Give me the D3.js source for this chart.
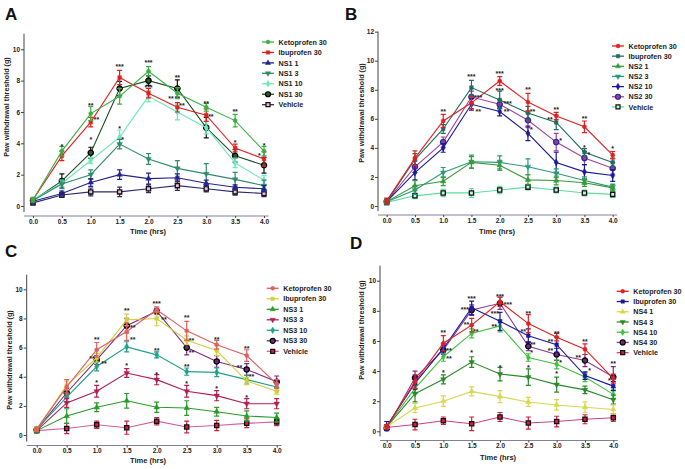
<!DOCTYPE html>
<html><head><meta charset="utf-8">
<script src="https://cdn.jsdelivr.net/npm/d3@7"></script>
<style>body{margin:0;background:#fff}svg{display:block;font-family:"Liberation Sans",Arial,sans-serif}</style>
</head><body><svg id="chart" width="685" height="469"></svg>
<script>
// ---------- DATA ----------
const timeHrs = [0, 0.5, 1, 1.5, 2, 2.5, 3, 3.5, 4];
const xTickLabels = ["0.0","0.5","1.0","1.5","2.0","2.5","3.0","3.5","4.0"];
const yTicks10 = [0, 2, 4, 6, 8, 10];
const yTicks12 = [0, 2, 4, 6, 8, 10, 12];

const aLabels = ["Ketoprofen 30","Ibuprofen 30","NS1 1","NS1 3","NS1 10","NS1 30","Vehicle"];
const aMeans = [
  [0.4,3.5,5.9,7.0,8.6,7.2,6.3,5.45,3.5],
  [0.4,3.2,5.35,8.2,7.2,6.3,5.8,3.7,3.0],
  [0.3,0.8,1.5,2.0,1.75,1.8,1.45,1.2,1.1],
  [0.35,1.4,2.0,3.95,3.0,2.4,2.05,1.7,1.3],
  [0.4,1.45,2.9,4.4,7.0,6.0,5.0,2.75,1.65],
  [0.35,1.6,3.4,7.5,8.0,7.5,5.0,3.2,2.6],
  [0.2,0.7,0.9,0.9,1.1,1.3,1.1,0.9,0.8]];
const aErr = [
  [0.15,0.3,0.45,0.5,0.3,0.35,0.25,0.4,0.3],
  [0.1,0.3,0.3,0.45,0.3,0.3,0.4,0.25,0.45],
  [0.1,0.15,0.25,0.3,0.35,0.25,0.2,0.15,0.2],
  [0.1,0.3,0.3,0.3,0.35,0.5,0.65,0.45,0.35],
  [0.1,0.2,0.2,0.45,0.35,0.5,0.4,0.3,0.3],
  [0.1,0.45,0.35,0.45,0.3,0.55,0.65,0.4,0.5],
  [0.1,0.15,0.25,0.3,0.25,0.3,0.2,0.2,0.2]];
const aStars = [[0.5,3.85,"*"],[1,6.5,"**"],[1.1,5.6,"**"],[1,4.3,"*"],[1.5,8.95,"***"],[1.5,5.0,"*"],[1.55,4.3,"*"],
  [2,9.25,"***"],[2,7.6,"***"],[2.5,8.25,"**"],[2.39,6.9,"**"],[2.58,6.5,"**"],[3,6.6,"**"],[3.08,5.8,"**"],
  [3.5,6.1,"**"],[3.5,4.1,"*"],[4,3.9,"*"],[3.92,3.3,"*"]];

const bLabels = ["Ketoprofen 30","Ibuprofen 30","NS2 1","NS2 3","NS2 10","NS2 30","Vehicle"];
const bMeans = [
  [0.35,3.3,5.85,7.1,8.6,7.15,6.2,5.45,3.5],
  [0.3,3.2,5.3,8.15,7.3,6.4,5.75,3.7,3.0],
  [0.3,1.4,1.7,3.0,2.8,1.8,1.75,1.6,1.25],
  [0.3,1.1,2.3,3.05,3.0,2.7,2.25,1.75,1.3],
  [0.3,2.3,4.0,7.0,6.5,5.0,3.0,2.35,2.1],
  [0.3,2.7,4.4,7.5,7.0,5.9,4.4,3.3,2.6],
  [0.25,0.7,0.9,0.9,1.1,1.3,1.1,0.9,0.8]];
const bErr = [
  [0.2,0.5,0.45,0.4,0.3,0.6,0.25,0.4,0.25],
  [0.2,0.4,0.3,0.5,0.6,0.45,0.5,0.25,0.3],
  [0.1,0.35,0.3,0.4,0.35,0.35,0.3,0.25,0.2],
  [0.1,0.3,0.35,0.45,0.45,0.55,0.3,0.25,0.2],
  [0.1,0.5,0.3,0.4,0.3,0.5,0.7,0.5,0.4],
  [0.1,0.4,0.35,0.4,0.3,0.5,0.6,0.45,0.4],
  [0.1,0.2,0.25,0.3,0.25,0.2,0.2,0.2,0.2]];
const bStars = [[1,6.55,"**"],[1.5,8.95,"***"],[1.62,7.55,"***"],[1.62,6.6,"**"],[2,9.2,"***"],[2,8.05,"***"],
  [2.14,7.15,"***"],[2.12,6.55,"**"],[2.5,8.1,"**"],[2.58,6.6,"**"],[2.56,5.3,"*"],[3,6.7,"**"],[2.89,6.0,"**"],
  [3.08,4.6,"*"],[3.5,6.1,"**"],[3.5,4.1,"*"],[3.58,3.6,"*"],[4,4.0,"*"]];

const cLabels = ["Ketoprofen 30","Ibuprofen 30","NS3 1","NS3 3","NS3 10","NS3 30","Vehicle"];
const cMeans = [
  [0.4,3.3,5.85,7.1,8.6,7.15,6.2,5.45,3.5],
  [0.4,3.4,5.3,7.9,8.0,6.5,5.8,3.7,3.0],
  [0.3,1.3,1.9,2.35,1.9,1.85,1.6,1.3,1.2],
  [0.3,2.2,3.0,4.25,3.8,3.0,2.7,2.15,2.15],
  [0.4,2.6,4.7,6.05,5.5,4.35,4.3,3.8,3.3],
  [0.35,2.9,5.15,7.5,8.5,6.0,5.05,4.5,3.65],
  [0.3,0.45,0.7,0.5,0.95,0.55,0.65,0.8,0.9]];
const cErr = [
  [0.15,0.5,0.5,0.6,0.2,0.65,0.3,0.4,0.3],
  [0.15,0.3,0.3,0.4,0.5,0.3,0.35,0.25,0.2],
  [0.1,0.5,0.3,0.5,0.35,0.5,0.3,0.35,0.3],
  [0.1,0.3,0.4,0.3,0.35,0.4,0.35,0.35,0.35],
  [0.1,0.3,0.3,0.35,0.2,0.25,0.3,0.3,0.25],
  [0.1,0.3,0.3,0.5,0.2,0.5,0.4,0.4,0.4],
  [0.1,0.35,0.25,0.45,0.25,0.4,0.35,0.3,0.25]];
const cStars = [[1,6.6,"**"],[0.92,5.3,"**"],[1.12,5.0,"**"],[1,3.7,"*"],[1.5,8.6,"**"],[1.6,7.45,"**"],[1.6,6.6,"**"],
  [1.5,4.85,"*"],[2,9.1,"***"],[2.12,8.0,"**"],[2,5.9,"**"],[2,4.2,"*"],[2.5,8.1,"**"],[2.58,6.55,"**"],
  [2.58,5.75,"**"],[2.5,4.75,"**"],[2.5,3.6,"*"],[3,6.6,"**"],[3,3.25,"*"],[3.5,6.0,"**"],[3.38,4.7,"**"],
  [3.58,4.05,"**"],[3.5,2.65,"*"]];

const dLabels = ["Ketoprofen 30","Ibuprofen 30","NS4 1","NS4 3","NS4 10","NS4 30","Vehicle"];
const dMeans = [
  [0.3,3.3,5.85,7.05,8.6,7.15,6.25,5.45,3.5],
  [0.35,3.2,5.5,8.2,7.3,6.35,5.75,3.7,3.0],
  [0.3,1.55,2.0,2.65,2.3,1.95,1.75,1.6,1.45],
  [0.3,2.5,3.45,4.6,3.8,3.6,3.1,2.75,2.1],
  [0.3,2.85,4.95,6.5,7.0,4.9,4.45,3.6,2.45],
  [0.2,3.55,5.4,8.05,8.5,5.65,5.1,4.7,3.6],
  [0.25,0.45,0.7,0.5,0.95,0.55,0.65,0.8,0.9]];
const dErr = [
  [0.15,0.45,0.5,0.45,0.3,0.6,0.25,0.35,0.3],
  [0.3,0.4,0.3,0.45,0.6,0.45,0.5,0.25,0.3],
  [0.1,0.3,0.35,0.3,0.4,0.3,0.35,0.35,0.3],
  [0.1,0.55,0.3,0.35,0.45,0.55,0.5,0.25,0.3],
  [0.1,0.35,0.3,0.3,0.4,0.25,0.3,0.3,0.3],
  [0.1,0.45,0.3,0.35,0.4,0.3,0.4,0.4,0.7],
  [0.1,0.35,0.25,0.45,0.3,0.4,0.35,0.3,0.25]];
const dStars = [[1,6.6,"**"],[1.1,5.45,"**"],[1.1,4.9,"**"],[1,3.95,"*"],[1.5,8.9,"***"],[1.38,8.15,"***"],
  [1.41,7.15,"**"],[1.57,6.7,"**"],[1.5,5.3,"*"],[2,9.0,"***"],[2.14,8.5,"***"],[1.91,7.9,"***"],[1.9,7.0,"**"],
  [2,4.3,"*"],[2.5,7.9,"**"],[2.41,6.7,"**"],[2.58,5.8,"**"],[2.56,5.3,"*"],[2.5,4.3,"*"],[3,6.55,"**"],
  [2.89,6.0,"**"],[2.89,5.4,"**"],[3.07,4.65,"*"],[3,3.9,"*"],[3.5,6.0,"**"],[3.38,4.95,"**"],[3.58,4.1,"*"],
  [4,4.6,"**"],[3.93,3.45,"*"]];

// ---------- STYLE ----------
const markerTypes = ["circle","square","tri","triDown","diamond","openCircle","openSquare"];
const panels = [
  {id:"A", labels:aLabels, means:aMeans, err:aErr, stars:aStars, yTicks:yTicks10, yMax:11,
   colors:["#3cb043","#e02020","#22228c","#2e8b6e","#6ee8b8","#1f4a2a","#2a2a70"],
   mfill:["#3cb043","#e02020","#22228c","#2e8b6e","#6ee8b8","#2a5a2a","#f2b8c8"],
   mstroke:["#3cb043","#e02020","#22228c","#2e8b6e","#6ee8b8","#000","#111"],
   x0:33, x4:264, y0:206, yUnit:15.67, yAxX:24, xAxY:216, legX:268, legY:42, legStep:10.45,
   letter:[5,20], yTitle:[6,107], xTitle:[148,234]},
  {id:"B", labels:bLabels, means:bMeans, err:bErr, stars:bStars, yTicks:yTicks12, yMax:12,
   colors:["#e02020","#1e6e5e","#3a9a3a","#2a9a7a","#1a1a9a","#a040a0","#5ae0a0"],
   mfill:["#e02020","#1e6e5e","#3a9a3a","#2a9a7a","#1a1a9a","#9a3a9a","#c8f0d8"],
   mstroke:["#e02020","#1e6e5e","#3a9a3a","#2a9a7a","#1a1a9a","#2a2a9a","#111"],
   x0:386.7, x4:612.7, y0:206, yUnit:14.53, yAxX:378, xAxY:215, legX:618, legY:46, legStep:10.15,
   letter:[345,20], yTitle:[361,113], xTitle:[497,234]},
  {id:"C", labels:cLabels, means:cMeans, err:cErr, stars:cStars, yTicks:yTicks10, yMax:11,
   colors:["#e06060","#d0d040","#2a9a2a","#b02050","#20a08a","#7a2a8a","#d060a0"],
   mfill:["#e06060","#d0d040","#2a9a2a","#b02050","#20a08a","#6a2a7a","#d02040"],
   mstroke:["#e06060","#d0d040","#2a9a2a","#b02050","#20a08a","#000","#111"],
   x0:36.7, x4:276.7, y0:435, yUnit:14.57, yAxX:26.7, xAxY:445.5, legX:272.7, legY:288.3, legStep:10.5,
   letter:[5,257], yTitle:[9,360], xTitle:[148,463]},
  {id:"D", labels:dLabels, means:dMeans, err:dErr, stars:dStars, yTicks:yTicks10, yMax:11,
   colors:["#e02020","#1a1a9a","#d8d850","#2a8a2a","#40c040","#8a3a9a","#d04080"],
   mfill:["#e02020","#1a1a9a","#d8d850","#2a8a2a","#40c040","#6a2a7a","#d02040"],
   mstroke:["#e02020","#1a1a9a","#d8d850","#2a8a2a","#40c040","#000","#111"],
   x0:386.7, x4:613.3, y0:431.3, yUnit:15.06, yAxX:380, xAxY:440.5, legX:622.7, legY:291.3, legStep:10.23,
   letter:[350,249], yTitle:[361,330], xTitle:[498,460]}
];

const svg = d3.select("#chart");
svg.append("rect").attr("width",685).attr("height",469).attr("fill","#fff");

function symbolPath(type, size){
  const s = {circle:d3.symbolCircle, square:d3.symbolSquare, tri:d3.symbolTriangle, triDown:d3.symbolTriangle,
    diamond:d3.symbolDiamond, openCircle:d3.symbolCircle, openSquare:d3.symbolSquare}[type];
  return d3.symbol().type(s).size(size)();
}
function markerSize(type){ return type==="openCircle"?22:type==="openSquare"?18:type==="diamond"?14:13; }

panels.forEach(p => {
  const g = svg.append("g");
  const ux = (p.x4 - p.x0) / 4;
  const x = d3.scaleLinear().domain([-0.1, 4.1]).range([p.x0 - 0.1*ux, p.x0 + 4.1*ux]);
  const yBottom = -(p.xAxY - 4 - p.y0) / p.yUnit;
  const y = d3.scaleLinear().domain([yBottom, p.yMax]).range([p.y0 - yBottom*p.yUnit, p.y0 - p.yMax*p.yUnit]);

  // Y axis
  const yAx = g.append("g").attr("transform",`translate(${p.yAxX},0)`)
    .call(d3.axisLeft(y).tickValues(p.yTicks).tickSize(3).tickPadding(1).tickFormat(d3.format("d")));
  yAx.selectAll("text").attr("font-size",6.5).attr("font-weight","bold").attr("fill","#222");
  yAx.selectAll("line,path").attr("stroke","#444").attr("stroke-width",1);
  yAx.select(".domain").attr("d",`M0,${y(yBottom)}V${y(p.yMax)}`);

  // X axis
  const xAx = g.append("g").attr("transform",`translate(0,${p.xAxY})`)
    .call(d3.axisBottom(x).tickValues(timeHrs).tickSize(2).tickPadding(1).tickFormat((d,i)=>xTickLabels[i]));
  xAx.selectAll("text").attr("font-size",6.5).attr("font-weight","bold").attr("fill","#222");
  xAx.selectAll("line,path").attr("stroke","#444").attr("stroke-width",1);
  xAx.select(".domain").attr("d",`M${p.yAxX},0H${x(4.08)}`).attr("stroke","#8080a0");

  // titles
  g.append("text").attr("x",p.xTitle[0]).attr("y",p.xTitle[1]).attr("text-anchor","middle")
    .attr("font-size",7.5).attr("font-weight","bold").attr("fill","#222").text("Time (hrs)");
  g.append("text").attr("transform",`translate(${p.yTitle[0]+3},${p.yTitle[1]}) rotate(-90)`)
    .attr("text-anchor","middle").attr("font-size",7.2).attr("font-weight","bold").attr("fill","#222")
    .text("Paw withdrawal threshold (g)");
  g.append("text").attr("x",p.letter[0]).attr("y",p.letter[1]).attr("font-size",17).attr("font-weight","bold")
    .attr("fill","#111").text(p.id);

  // series drawn back to front (vehicle first)
  const line = d3.line().x((d,i)=>x(timeHrs[i])).y(d=>y(d));
  for (let s = p.labels.length-1; s >= 0; s--) {
    const col = p.colors[s];
    const sg = g.append("g");
    sg.append("path").datum(p.means[s]).attr("d",line).attr("fill","none").attr("stroke",col).attr("stroke-width",1.1);
    const errCol = (s===6 && (p.id==="C"||p.id==="D")) ? "#d02040" : (s===5 ? (p.id==="A"?"#111":p.id==="B"?"#a040a0":"#7a2a8a") : col);
    p.means[s].forEach((m,i) => {
      const e = p.err[s][i], cx = x(timeHrs[i]);
      sg.append("path").attr("d",`M${cx},${y(m-e)}V${y(m+e)}M${cx-2.5},${y(m-e)}H${cx+2.5}M${cx-2.5},${y(m+e)}H${cx+2.5}`)
        .attr("stroke",errCol).attr("stroke-width",1.2).attr("fill","none");
    });
    const t = markerTypes[s];
    sg.selectAll("path.m").data(p.means[s]).join("path").attr("class","m")
      .attr("d",symbolPath(t, markerSize(t)))
      .attr("transform",(d,i)=>`translate(${x(timeHrs[i])},${y(d)})${t==="triDown"?" rotate(180)":""}`)
      .attr("fill",p.mfill[s]).attr("stroke",p.mstroke[s])
      .attr("stroke-width",(t==="openCircle"||t==="openSquare")?1.3:0.5);
  }

  // significance stars
  g.selectAll("text.star").data(p.stars).join("text").attr("class","star")
    .attr("x",d=>x(d[0])).attr("y",d=>y(d[1])+3.5).attr("text-anchor","middle")
    .attr("font-size",7).attr("font-weight","bold").attr("fill","#222").text(d=>d[2]);

  // legend
  p.labels.forEach((lab,s) => {
    const ly = p.legY + s*p.legStep, t = markerTypes[s];
    g.append("line").attr("x1",p.legX-6).attr("x2",p.legX+6).attr("y1",ly).attr("y2",ly)
      .attr("stroke",p.colors[s]).attr("stroke-width",1.3);
    g.append("path").attr("d",symbolPath(t, markerSize(t)*0.9))
      .attr("transform",`translate(${p.legX},${ly})${t==="triDown"?" rotate(180)":""}`)
      .attr("fill",p.mfill[s]).attr("stroke",p.mstroke[s]).attr("stroke-width",(t==="openCircle"||t==="openSquare")?1.2:0.5);
    g.append("text").attr("x",p.legX+10.5).attr("y",ly+2.6).attr("font-size",7.2).attr("font-weight","bold")
      .attr("fill","#222").text(lab);
  });
});
</script></body></html>
